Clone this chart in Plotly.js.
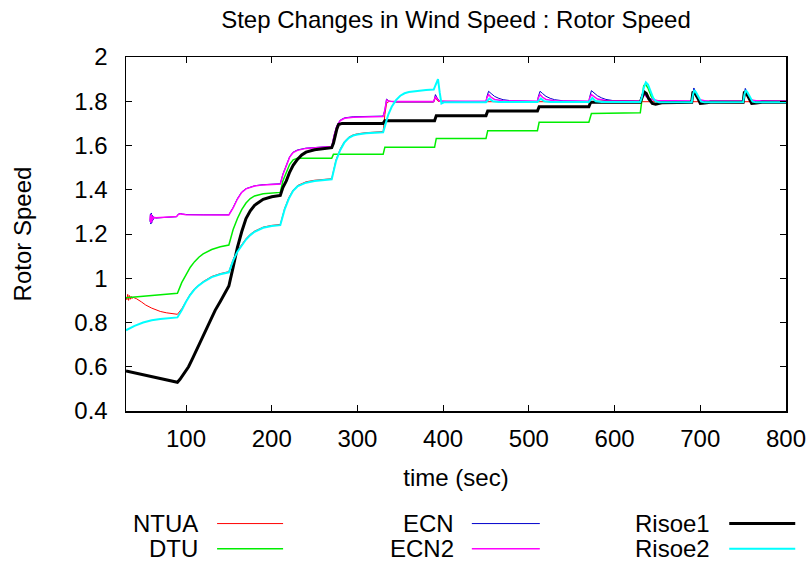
<!DOCTYPE html>
<html>
<head>
<meta charset="utf-8">
<script src="https://cdn.plot.ly/plotly-3.0.1.min.js"></script>
<style>html,body{margin:0;padding:0;background:#fff;}</style>
</head>
<body>
<div id="chart" style="width:812px;height:564px;"></div>
<script>
// ---- data (time in sec, rotor speed) ----
const seriesNames = ['NTUA', 'DTU', 'ECN', 'ECN2', 'Risoe1', 'Risoe2'];
const xTickVals = [100, 200, 300, 400, 500, 600, 700, 800];
const yTickVals = [0.4, 0.6, 0.8, 1, 1.2, 1.4, 1.6, 1.8, 2];

const ntua = [[30,0.915],[31,0.903],[32,0.927],[33,0.9],[34,0.922],[35,0.905],[36,0.918],[37,0.908],[38,0.914],[42,0.908],[48,0.893],[53,0.879],[60,0.865],[65,0.856],[70,0.85],[77,0.844],[84,0.84],[90,0.837],[95,0.862],[100,0.898],[105,0.929],[110,0.953],[115,0.971],[120,0.985],[130,1.008],[140,1.021],[150,1.03],[155,1.085],[160,1.125],[165,1.155],[170,1.179],[175,1.199],[180,1.213],[190,1.231],[200,1.239],[210,1.243],[215,1.315],[220,1.365],[225,1.399],[230,1.419],[240,1.436],[250,1.443],[260,1.448],[270,1.45],[275,1.535],[280,1.585],[285,1.619],[290,1.638],[295,1.648],[300,1.653],[310,1.658],[320,1.661],[330,1.663],[332,1.74],[334,1.79],[337,1.80],[345,1.797],[389,1.797],[391,1.815],[394,1.80],[450,1.798],[800,1.798]];

const dtu = [[30,0.912],[40,0.915],[50,0.918],[60,0.922],[70,0.925],[80,0.928],[90,0.932],[95,0.98],[100,1.018],[105,1.05],[110,1.075],[115,1.095],[120,1.11],[130,1.13],[140,1.142],[150,1.15],[155,1.22],[160,1.27],[165,1.31],[170,1.34],[175,1.36],[180,1.372],[190,1.382],[200,1.386],[210,1.388],[213,1.44],[217,1.48],[221,1.515],[225,1.535],[230,1.542],[270,1.542],[272,1.56],[330,1.56],[332,1.592],[390,1.592],[392,1.632],[450,1.632],[452,1.667],[510,1.667],[512,1.705],[570,1.705],[573,1.745],[630,1.748],[632,1.80],[634,1.87],[636,1.878],[639,1.86],[643,1.82],[648,1.80],[660,1.798],[690,1.798],[692,1.83],[694,1.84],[697,1.815],[702,1.798],[750,1.798],[752,1.83],[754,1.84],[757,1.815],[762,1.798],[800,1.798]];

const ecn = [[58,1.255],[58.5,1.29],[59,1.245],[59.5,1.295],[60,1.25],[60.5,1.285],[61,1.26],[61.5,1.28],[62,1.265],[63,1.275],[65,1.272],[75,1.275],[89,1.278],[91,1.29],[93,1.293],[96,1.29],[100,1.288],[120,1.287],[150,1.287],[155,1.32],[160,1.36],[165,1.39],[170,1.405],[180,1.418],[190,1.423],[210,1.427],[213,1.47],[217,1.51],[221,1.55],[225,1.57],[230,1.58],[240,1.588],[255,1.593],[270,1.596],[273,1.65],[276,1.69],[280,1.715],[285,1.725],[295,1.73],[310,1.732],[330,1.733],[332,1.76],[334,1.81],[337,1.80],[345,1.797],[389,1.797],[391,1.83],[393,1.815],[396,1.80],[410,1.798],[450,1.798],[451,1.82],[453,1.845],[456,1.835],[460,1.822],[465,1.813],[470,1.807],[480,1.802],[510,1.799],[511,1.82],[513,1.845],[516,1.835],[520,1.822],[525,1.813],[530,1.807],[540,1.802],[570,1.799],[571,1.82],[573,1.848],[576,1.838],[580,1.825],[585,1.815],[590,1.808],[600,1.802],[630,1.799],[631,1.815],[633,1.84],[636,1.83],[640,1.815],[645,1.806],[650,1.802],[660,1.80],[690,1.80],[691,1.825],[692.5,1.86],[695,1.835],[698,1.81],[702,1.802],[710,1.80],[750,1.80],[751,1.825],[752.5,1.858],[755,1.833],[758,1.81],[762,1.802],[770,1.80],[800,1.80]];

const ecn2 = [[58,1.26],[58.5,1.285],[59,1.25],[59.5,1.29],[60,1.255],[60.5,1.28],[61,1.265],[62,1.275],[65,1.273],[75,1.276],[89,1.279],[91,1.288],[93,1.291],[100,1.287],[150,1.286],[155,1.318],[160,1.358],[165,1.388],[170,1.404],[180,1.417],[190,1.422],[210,1.426],[213,1.468],[217,1.508],[221,1.548],[225,1.568],[230,1.578],[240,1.587],[255,1.592],[270,1.595],[273,1.648],[276,1.688],[280,1.713],[285,1.723],[295,1.728],[310,1.730],[330,1.731],[332,1.76],[334,1.805],[337,1.80],[345,1.799],[389,1.799],[391,1.822],[393,1.81],[396,1.80],[450,1.80],[451,1.815],[453,1.83],[456,1.818],[460,1.808],[470,1.802],[510,1.80],[511,1.815],[513,1.83],[516,1.818],[520,1.808],[530,1.802],[570,1.80],[571,1.815],[573,1.83],[576,1.82],[580,1.81],[590,1.803],[630,1.801],[631,1.815],[633,1.835],[636,1.825],[640,1.81],[650,1.803],[690,1.801],[691,1.82],[692.5,1.845],[695,1.825],[698,1.808],[705,1.802],[750,1.801],[751,1.82],[752.5,1.843],[755,1.823],[758,1.807],[765,1.802],[800,1.801]];

const risoe1 = [[30,0.581],[40,0.573],[50,0.565],[60,0.556],[70,0.548],[80,0.539],[90,0.530],[93,0.543],[96,0.562],[100,0.585],[103,0.60],[108,0.64],[114,0.69],[121,0.75],[128,0.811],[134,0.855],[140,0.895],[145,0.93],[150,0.965],[155,1.05],[160,1.14],[165,1.21],[170,1.27],[175,1.305],[180,1.33],[190,1.357],[200,1.368],[210,1.374],[213,1.41],[217,1.44],[221,1.48],[225,1.51],[230,1.537],[235,1.557],[240,1.57],[250,1.581],[260,1.587],[270,1.59],[272,1.61],[274,1.645],[276,1.675],[278,1.695],[282,1.70],[330,1.70],[332,1.712],[390,1.712],[392,1.735],[450,1.735],[452,1.756],[510,1.756],[512,1.775],[570,1.775],[572,1.795],[630,1.795],[632,1.82],[634.5,1.842],[637,1.835],[640,1.81],[644,1.79],[648,1.787],[655,1.793],[690,1.795],[691.5,1.843],[694,1.835],[697,1.815],[700,1.79],[705,1.792],[712,1.795],[750,1.795],[751.5,1.843],[754,1.835],[757,1.815],[760,1.79],[765,1.792],[772,1.795],[800,1.795]];

const risoe2 = [[30,0.765],[40,0.785],[50,0.800],[60,0.810],[70,0.816],[80,0.820],[90,0.823],[95,0.855],[100,0.894],[105,0.925],[110,0.950],[115,0.968],[120,0.982],[130,1.005],[140,1.018],[150,1.027],[155,1.08],[160,1.12],[165,1.15],[170,1.175],[175,1.195],[180,1.21],[190,1.228],[200,1.236],[210,1.24],[215,1.31],[220,1.36],[225,1.395],[230,1.415],[240,1.432],[250,1.44],[260,1.445],[270,1.447],[275,1.53],[280,1.58],[285,1.615],[290,1.635],[295,1.645],[300,1.65],[310,1.655],[320,1.658],[330,1.66],[333,1.70],[336,1.74],[340,1.775],[345,1.805],[350,1.825],[355,1.836],[360,1.842],[370,1.847],[380,1.851],[389,1.853],[391,1.87],[394,1.90],[396,1.84],[398,1.79],[401,1.795],[410,1.796],[450,1.796],[452,1.805],[454,1.812],[458,1.80],[465,1.797],[510,1.797],[512,1.806],[514,1.812],[518,1.80],[525,1.797],[570,1.797],[572,1.808],[574,1.815],[578,1.80],[585,1.797],[630,1.797],[632,1.82],[634,1.86],[636.5,1.885],[639,1.875],[642,1.845],[645,1.815],[648,1.80],[652,1.795],[660,1.796],[690,1.796],[691.5,1.83],[693,1.851],[695,1.84],[698,1.815],[701,1.798],[705,1.795],[750,1.796],[751.5,1.83],[753,1.85],[755,1.84],[758,1.815],[761,1.798],[765,1.795],[800,1.796]];

const seriesData = [ntua, dtu, ecn, ecn2, risoe1, risoe2];
const seriesColors = ['#ff0000', '#00ee00', '#0000cc', '#ff00ff', '#000000', '#00ffff'];
const seriesWidths = [1, 1.5, 1, 1.5, 3, 2];

const FONT = 'Liberation Sans, Arial, Helvetica, sans-serif';
const FS = 24;

const traces = seriesData.map((d, i) => ({
  type: 'scatter',
  mode: 'lines',
  name: seriesNames[i],
  x: d.map(p => p[0]),
  y: d.map(p => p[1]),
  line: {color: seriesColors[i], width: seriesWidths[i]},
  showlegend: false,
  hoverinfo: 'skip'
}));

// gnuplot-style key: label text right-aligned, sample line to its right
const keyCols = [[0, 1], [2, 3], [4, 5]];
const keyTextX = [0.112, 0.500, 0.888];
const keyLineX = [[0.138, 0.238], [0.524, 0.627], [0.914, 1.014]];
const keyRowY = [-0.318, -0.389];
const annotations = [];
const shapes = [];
keyCols.forEach((col, c) => {
  col.forEach((si, r) => {
    annotations.push({
      xref: 'paper', yref: 'paper', x: keyTextX[c], y: keyRowY[r],
      xanchor: 'right', yanchor: 'middle', showarrow: false,
      text: seriesNames[si], font: {family: FONT, size: FS, color: '#000'}
    });
    shapes.push({
      type: 'line', xref: 'paper', yref: 'paper',
      x0: keyLineX[c][0], x1: keyLineX[c][1], y0: keyRowY[r], y1: keyRowY[r],
      line: {color: seriesColors[si], width: seriesWidths[si]}
    });
  });
});

const layout = {
  width: 812, height: 564,
  margin: {l: 126, r: 26, t: 57, b: 153},
  paper_bgcolor: '#fff', plot_bgcolor: '#fff',
  font: {family: FONT, size: FS, color: '#000'},
  title: {text: 'Step Changes in Wind Speed : Rotor Speed', font: {family: FONT, size: FS},
          x: 0.5, xref: 'paper', xanchor: 'center', y: 1 - 20/564, yref: 'container', yanchor: 'middle'},
  xaxis: {
    range: [30, 800], tickvals: xTickVals, ticks: 'inside', ticklen: 6, tickcolor: '#000',
    showline: true, mirror: 'ticks', linecolor: '#000', linewidth: 1.5,
    showgrid: false, zeroline: false, tickfont: {family: FONT, size: FS},
    ticklabelstandoff: 6,
    title: {text: 'time (sec)', font: {family: FONT, size: FS}, standoff: 18}
  },
  yaxis: {
    range: [0.4, 2], tickvals: yTickVals, ticks: 'inside', ticklen: 6, tickcolor: '#000',
    showline: true, mirror: 'ticks', linecolor: '#000', linewidth: 1.5,
    showgrid: false, zeroline: false, tickfont: {family: FONT, size: FS},
    ticklabelstandoff: 12,
    title: {text: 'Rotor Speed', font: {family: FONT, size: FS}, standoff: 36}
  },
  annotations: annotations,
  shapes: shapes
};

Plotly.newPlot('chart', traces, layout, {displayModeBar: false, staticPlot: true});
</script>
</body>
</html>
